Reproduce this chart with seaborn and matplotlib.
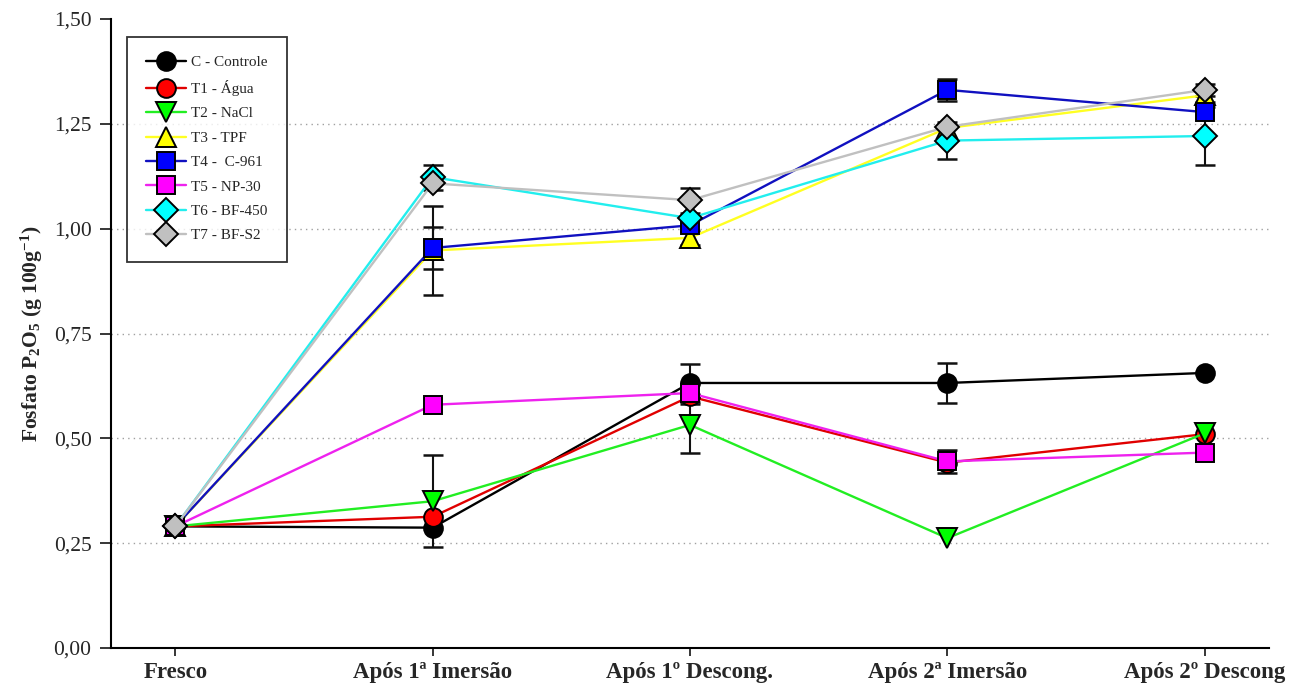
import numpy as np
import pandas as pd
import matplotlib
matplotlib.use("Agg")
import matplotlib.pyplot as plt
from matplotlib.lines import Line2D
from matplotlib.ticker import FuncFormatter
import seaborn as sns

# --- data -------------------------------------------------------------
etapas = ["Fresco", "Após 1ª Imersão", "Após 1º Descong.", "Após 2ª Imersão", "Após 2º Descong"]
tratamentos = ["C - Controle", "T1 - Água", "T2 - NaCl", "T3 - TPF",
               "T4 -  C-961", "T5 - NP-30", "T6 - BF-450", "T7 - BF-S2"]

controle = [0.29, 0.287, 0.632, 0.632, 0.656]
agua     = [0.29, 0.313, 0.600, 0.442, 0.510]
nacl     = [0.29, 0.350, 0.532, 0.262, 0.512]
tpf      = [0.29, 0.948, 0.978, 1.240, 1.318]
c961     = [0.29, 0.954, 1.008, 1.331, 1.278]
np30     = [0.29, 0.580, 0.608, 0.445, 0.466]
bf450    = [0.29, 1.123, 1.025, 1.210, 1.221]
bfs2     = [0.29, 1.108, 1.068, 1.243, 1.331]

err_controle = [0.0, 0.0, 0.045, 0.047, 0.0]
err_agua     = [0.0, 0.0, 0.0, 0.0, 0.0]
err_nacl     = [0.0, 0.110, 0.067, 0.0, 0.0]
err_tpf      = [0.0, 0.106, 0.016, 0.0, 0.016]
err_c961     = [0.0, 0.050, 0.0, 0.027, 0.0]
err_np30     = [0.0, 0.0, 0.025, 0.027, 0.0]
err_bf450    = [0.0, 0.030, 0.0, 0.045, 0.070]
err_bfs2     = [0.0, 0.0, 0.030, 0.0, 0.015]

valores = [controle, agua, nacl, tpf, c961, np30, bf450, bfs2]
erros = [err_controle, err_agua, err_nacl, err_tpf, err_c961, err_np30, err_bf450, err_bfs2]

cores_linha = ["#000000", "#e00000", "#22ee22", "#ffff22", "#1010c0", "#ee22ee", "#22eeee", "#c0c0c0"]
cores_marca = ["#000000", "#ff0000", "#00ff00", "#ffff00", "#0000ff", "#ff00ff", "#00ffff", "#c0c0c0"]
marcadores = ["o", "o", "v", "^", "s", "s", "D", "D"]
tamanho = {"o": 13.5, "v": 14, "^": 14, "s": 12.5, "D": 12}

df = pd.DataFrame({
    "trat": np.repeat(tratamentos, len(etapas)),
    "pos": np.tile(np.arange(len(etapas)), len(tratamentos)),
    "valor": np.concatenate(valores),
    "erro": np.concatenate(erros),
})

# --- style ------------------------------------------------------------
sns.set_theme(style="ticks")
plt.rcParams["font.family"] = ["Liberation Serif", "DejaVu Serif"]
plt.rcParams["mathtext.fontset"] = "custom"
plt.rcParams["mathtext.rm"] = "Liberation Serif:bold"
plt.rcParams["mathtext.bf"] = "Liberation Serif:bold"
plt.rcParams["mathtext.it"] = "Liberation Serif:bold"

fig = plt.figure(figsize=(12.95, 6.98), dpi=100)
ax = fig.add_axes([111 / 1295, 50 / 698, 1158 / 1295, 629 / 698])

# horizontal dotted reference lines
for yv in [0.25, 0.5, 0.75, 1.0, 1.25]:
    ax.axhline(yv, color="#a0a0a0", linestyle=(0, (1, 3)), linewidth=1.0, zorder=0)

# error bars beneath the markers
for i, t in enumerate(tratamentos):
    sub = df[(df.trat == t) & (df.erro > 0)]
    if len(sub):
        ax.errorbar(sub.pos, sub.valor, yerr=sub.erro, fmt="none", ecolor="#111111",
                    elinewidth=1.5, capsize=7, capthick=1.8, zorder=2 + i * 0.1)

# lines + markers, one series at a time so later treatments sit on top
for i, t in enumerate(tratamentos):
    sns.lineplot(data=df[df.trat == t], x="pos", y="valor", color=cores_linha[i],
                 marker=marcadores[i], markersize=tamanho[marcadores[i]],
                 markerfacecolor=cores_marca[i], markeredgecolor="black",
                 markeredgewidth=1.4, linewidth=1.7, errorbar=None, sort=False,
                 legend=False, ax=ax, zorder=3 + i * 0.1)

# --- axes -------------------------------------------------------------
ax.set_xlim(-0.25, 4.25)
ax.set_ylim(0, 1.5)
ax.set_xticks(np.arange(len(etapas)))
ax.set_xticklabels(etapas, fontsize=16.5, fontweight="bold")
ax.set_yticks(np.arange(0, 1.51, 0.25))
ax.yaxis.set_major_formatter(FuncFormatter(lambda v, p: f"{v:.2f}".replace(".", ",")))
ax.tick_params(axis="y", labelsize=15.5, length=8, width=1.3, direction="out", pad=6)
ax.tick_params(axis="x", length=6, width=1.3, direction="out", pad=4)
ax.set_xlabel("")
ax.set_ylabel(r"Fosfato P$_\mathbf{2}$O$_\mathbf{5}$ (g 100g$^\mathbf{-1}$)",
              fontsize=15.5, fontweight="bold", labelpad=6)
for s in ["top", "right"]:
    ax.spines[s].set_visible(False)
for s in ["left", "bottom"]:
    ax.spines[s].set_linewidth(1.5)
    ax.spines[s].set_color("black")
ax.set_facecolor("white")

# legend
handles = [Line2D([0], [0], color=cores_linha[i], marker=marcadores[i],
                  markersize=tamanho[marcadores[i]],
                  markerfacecolor=cores_marca[i], markeredgecolor="black",
                  markeredgewidth=1.4, linewidth=1.7)
           for i in range(len(tratamentos))]
leg = ax.legend(handles, tratamentos, loc="upper left", bbox_to_anchor=(0.014, 0.972),
                fontsize=11, frameon=True, fancybox=False, edgecolor="black",
                handlelength=2.6, handletextpad=0.35, labelspacing=0.7,
                borderpad=1.25, borderaxespad=0)
leg.get_frame().set_linewidth(1.3)

fig.savefig("out.png", dpi=100, facecolor="white")
